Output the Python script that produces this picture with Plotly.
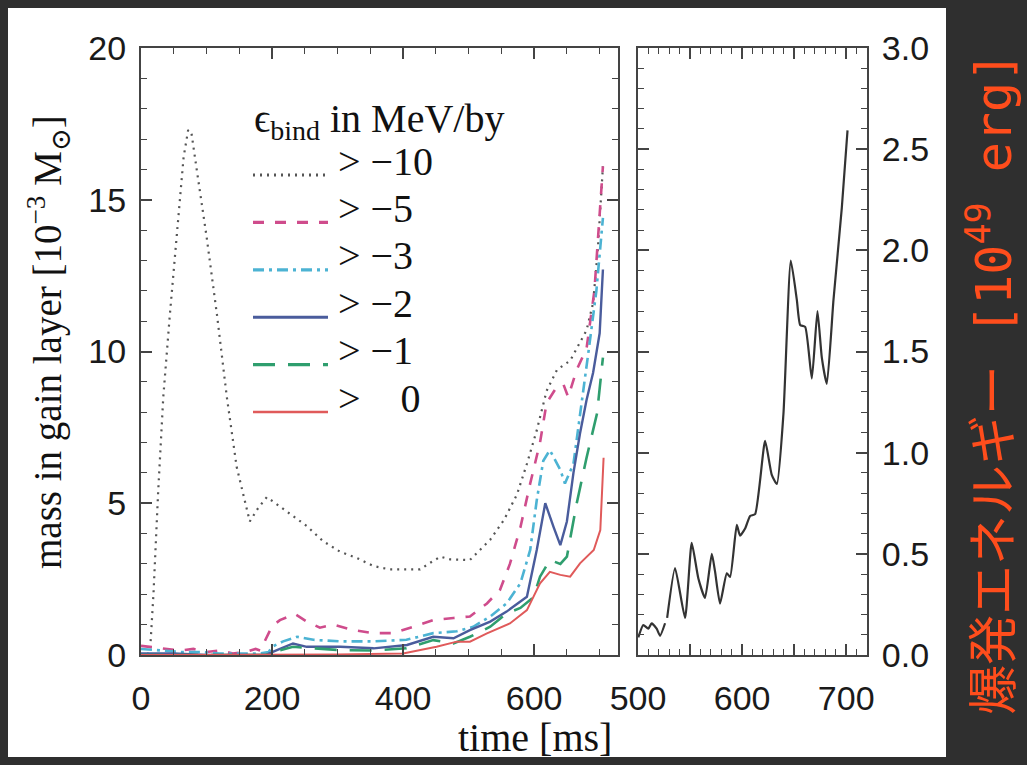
import plotly.graph_objects as go

W, H = 1027, 765

# ---- mass in gain layer for binding-energy thresholds (10^-3 Msun) ----
t_m10 = [0, 10, 14, 19, 26, 34, 44, 54, 65, 72, 77, 85, 100, 116, 131, 146, 156, 166, 179, 192,
         202, 228, 253, 278, 304, 329, 355, 380, 400, 426, 440, 457, 472, 487, 502, 533, 554,
         574, 589, 604, 619, 635, 655, 670, 680, 690, 697, 705]
m_m10 = [0, 0, 0.2, 2.0, 5.3, 8.5, 11.2, 13.8, 16.4, 17.3, 17.2, 16.0, 13.8, 11.2, 8.5, 6.2,
         5.3, 4.4, 4.85, 5.2, 5.05, 4.65, 4.25, 3.75, 3.4, 3.2, 2.93, 2.82, 2.82, 2.82, 3.02,
         3.24, 3.15, 3.13, 3.13, 3.8, 4.45, 5.3, 6.3, 7.4, 8.7, 9.4, 9.7, 10.3, 10.7, 11.6,
         13.3, 16.1]

t_m5 = [0, 20, 40, 60, 80, 100, 120, 140, 160, 175, 182, 190, 200, 212, 235, 253, 273, 294,
        324, 355, 385, 416, 446, 477, 502, 528, 548, 563, 579, 594, 609, 619, 635, 645, 652,
        665, 680, 692, 705]
m_m5 = [0.3, 0.25, 0.2, 0.15, 0.2, 0.1, 0.15, 0.05, 0.1, 0.2, 0.15, 0.5, 0.95, 1.15, 1.35,
        1.1, 0.9, 1.0, 0.82, 0.72, 0.72, 0.93, 1.15, 1.22, 1.27, 1.7, 2.15, 3.0, 4.2, 5.65,
        7.0, 8.3, 8.85, 8.9, 8.5, 9.4, 10.1, 12.0, 16.1]

t_m3 = [0, 30, 60, 90, 120, 150, 180, 195, 200, 217, 238, 263, 304, 355, 405, 446, 482, 507,
        533, 558, 579, 594, 604, 614, 624, 640, 647, 660, 670, 683, 695, 705]
m_m3 = [0.2, 0.15, 0.1, 0.1, 0.05, 0.05, 0.05, 0.1, 0.27, 0.45, 0.6, 0.5, 0.45, 0.45, 0.5,
        0.72, 0.78, 0.93, 1.27, 1.7, 2.36, 3.46, 5.1, 6.4, 6.75, 6.1, 5.65, 6.3, 7.85, 10.0,
        12.0, 14.4]

t_m2 = [0, 50, 100, 150, 190, 202, 232, 253, 304, 355, 406, 446, 477, 502, 533, 558, 589,
        604, 617, 630, 640, 650, 660, 670, 680, 690, 700, 705]
m_m2 = [0.05, 0.05, 0.0, 0.0, 0.0, 0.11, 0.38, 0.27, 0.27, 0.22, 0.33, 0.6, 0.55, 0.82, 1.1,
        1.43, 1.92, 3.46, 5.0, 4.2, 3.62, 4.4, 6.0, 7.3, 8.4, 9.3, 10.6, 12.7]

t_m1 = [0, 100, 190, 202, 232, 304, 355, 405, 446, 477, 502, 533, 558, 579, 599, 609, 624,
        640, 650, 665, 680, 696, 705]
m_m1 = [0, 0, 0, 0.1, 0.27, 0.16, 0.15, 0.22, 0.49, 0.38, 0.6, 0.93, 1.37, 1.55, 1.9, 2.58,
        3.13, 3.0, 3.24, 5.0, 6.5, 7.96, 9.8]

t_0 = [0, 100, 200, 300, 400, 451, 482, 502, 528, 563, 589, 609, 624, 640, 655, 670, 691,
       701, 706]
m_0 = [0, 0, 0, 0.02, 0.05, 0.27, 0.44, 0.44, 0.71, 1.04, 1.48, 2.36, 2.74, 2.64, 2.58,
       3.02, 3.46, 4.12, 6.5]

# ---- explosion energy (10^49 erg) ----
t_energy = [500.3, 505.1, 509.9, 513.1, 517.9, 521.2, 526.0, None,
            528.0, 535.6, 545.2, 551.6, 558.0, 564.4, 570.9, 574.0, 578.8, 585.3, 588.5,
            594.9, 598.0, 602.9, 607.7, 612.5, 622.1, 628.5, 633.4, 639.7, 646.8, 652.6,
            655.8, 660.6, 667.0, 672.4, 676.6, 681.4, 687.8, 695.8, 701.3]
e_energy = [0.087, 0.148, 0.13, 0.157, 0.13, 0.095, 0.157, None,
            0.183, 0.43, 0.183, 0.554, 0.378, 0.282, 0.50, 0.413, 0.254, 0.404, 0.386,
            0.643, 0.59, 0.625, 0.687, 0.696, 1.058, 0.89, 0.845, 1.19, 1.949, 1.755,
            1.631, 1.622, 1.366, 1.70, 1.47, 1.34, 1.755, 2.21, 2.593]

labels = ["> \u221210", "> \u22125", "> \u22123", "> \u22122", "> \u22121", "> \u2002 0"]

series = [
    (t_m10, m_m10, "#555555", "2px,5px", 2.2),
    (t_m5, m_m5, "#cf4c8c", "11px,11px", 2.6),
    (t_m3, m_m3, "#4cb3d3", "11px,5px,3px,5px", 2.6),
    (t_m2, m_m2, "#4a5c9c", "solid", 2.4),
    (t_m1, m_m1, "#2f9e6e", "22px,13px", 2.6),
    (t_0, m_0, "#e05a5a", "solid", 2.0),
]


def px(x):
    return x / W


def py(y):
    return 1 - y / H


fig = go.Figure()
for (t, m, col, dash, lw), name in zip(series, labels):
    fig.add_trace(go.Scatter(x=t, y=m, mode="lines", name=name, showlegend=False,
                             line=dict(color=col, dash=dash, width=lw),
                             xaxis="x", yaxis="y"))

fig.add_trace(go.Scatter(x=t_energy, y=e_energy, mode="lines", showlegend=False,
                         connectgaps=False,
                         line=dict(color="#333333", width=2.2, shape="spline", smoothing=0.5),
                         xaxis="x2", yaxis="y2"))

AX = "#444444"
tickfont = dict(family="Liberation Sans, Arial, Helvetica", size=34, color="#1a1a1a")
common = dict(showline=True, linecolor=AX, linewidth=2, mirror="ticks", ticks="inside",
              ticklen=11, tickwidth=1.6, tickcolor=AX, showgrid=False, zeroline=False,
              tickfont=tickfont, fixedrange=True, automargin=False)

ydom = [py(655), py(48)]

fig.update_layout(
    template="none",
    width=W, height=H, autosize=False,
    margin=dict(l=0, r=0, t=0, b=0, pad=0),
    paper_bgcolor="#2f2f2f", plot_bgcolor="white",
    showlegend=False,
    xaxis=dict(domain=[px(141), px(618)], range=[0, 728], anchor="y",
               tickvals=[0, 200, 400, 600], ticklabelstandoff=12,
               minor=dict(dtick=50, ticklen=6, ticks="inside", tickcolor=AX, tickwidth=1.4),
               **common),
    yaxis=dict(domain=ydom, range=[0, 20], anchor="x",
               tickvals=[0, 5, 10, 15, 20], ticklabelstandoff=6,
               minor=dict(dtick=1, ticklen=6, ticks="inside", tickcolor=AX, tickwidth=1.4),
               **common),
    xaxis2=dict(domain=[px(638), px(867)], range=[500, 720], anchor="y2",
                tickvals=[500, 550, 600, 650, 700], ticktext=["500", "", "600", "", "700"],
                ticklabelstandoff=12,
                minor=dict(dtick=10, ticklen=6, ticks="inside", tickcolor=AX, tickwidth=1.4),
                **common),
    yaxis2=dict(domain=ydom, range=[0, 3], anchor="x2", side="right",
                tickvals=[0, 0.5, 1.0, 1.5, 2.0, 2.5, 3.0],
                ticktext=["0.0", "0.5", "1.0", "1.5", "2.0", "2.5", "3.0"],
                ticklabelstandoff=6,
                minor=dict(dtick=0.1, ticklen=6, ticks="inside", tickcolor=AX, tickwidth=1.4),
                **common),
)

# white sheet behind the panels
shapes = [dict(type="rect", xref="paper", yref="paper", layer="below",
               x0=px(8), x1=px(946), y0=py(757), y1=py(8),
               fillcolor="white", line=dict(width=0))]

serif = "Liberation Serif, Times New Roman, DejaVu Serif"
annotations = []

# legend block
LEG_X0, LEG_X1, LEG_TX = 253, 328, 336
LEG_Y0, LEG_DY = 161, 47.4
annotations.append(dict(xref="paper", yref="paper", x=px(252), y=py(121),
                        xanchor="left", yanchor="middle", showarrow=False,
                        text="\u03f5<sub>bind</sub> in MeV/by",
                        font=dict(family=serif, size=40, color="#111111")))
for i, ((t, m, col, dash, lw), name) in enumerate(zip(series, labels)):
    yt = LEG_Y0 + i * LEG_DY
    yl = yt + 14
    shapes.append(dict(type="line", xref="paper", yref="paper",
                       x0=px(LEG_X0), x1=px(LEG_X1), y0=py(yl), y1=py(yl),
                       line=dict(color=col, dash=dash, width=lw + 0.6)))
    annotations.append(dict(xref="paper", yref="paper", x=px(LEG_TX), y=py(yt),
                            xanchor="left", yanchor="middle", showarrow=False,
                            text=name, font=dict(family=serif, size=40, color="#111111")))

# axis titles
annotations.append(dict(xref="paper", yref="paper", x=px(535), y=py(737),
                        xanchor="center", yanchor="middle", showarrow=False,
                        text="time [ms]", font=dict(family=serif, size=40, color="#111111")))
annotations.append(dict(xref="paper", yref="paper", x=px(48), y=py(342),
                        xanchor="center", yanchor="middle", showarrow=False, textangle=-90,
                        text="mass in gain layer [10<sup>\u22123</sup> M<sub>\u2299</sub>]",
                        font=dict(family=serif, size=39, color="#111111")))
annotations.append(dict(xref="paper", yref="paper", x=px(990), y=py(384),
                        xanchor="center", yanchor="middle", showarrow=False, textangle=-90,
                        text="爆発エネルギー\u2002[10<sup>49</sup>\u2002erg]",
                        font=dict(family="DejaVu Sans Mono, Noto Sans CJK JP", size=50,
                                  color="#ff4d1c")))

fig.update_layout(shapes=shapes, annotations=annotations)
fig.write_html("out.html")
